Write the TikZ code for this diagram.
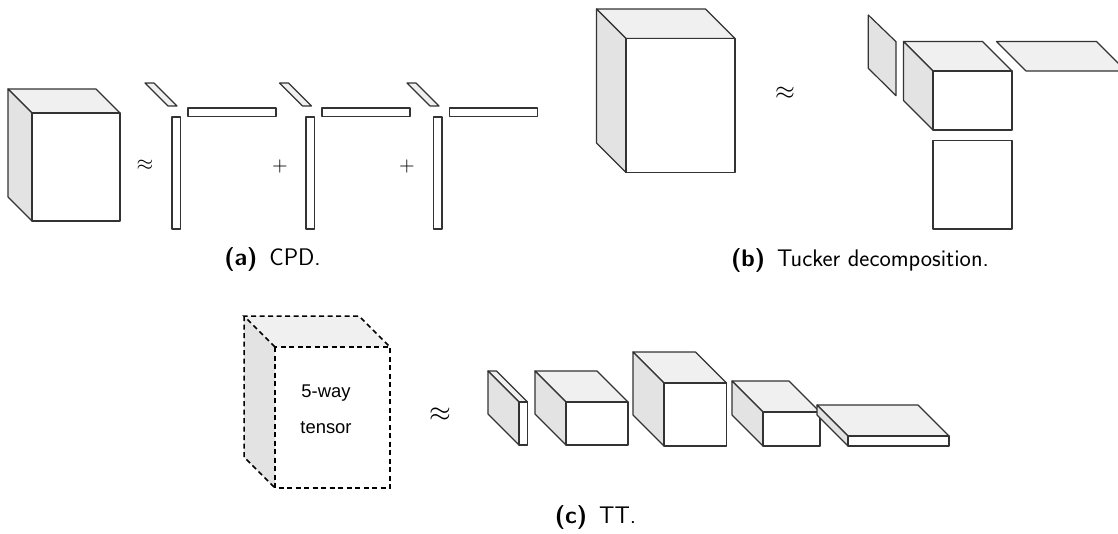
\documentclass[tikz,border=0pt]{standalone}
\usepackage{fontspec}
\newfontfamily\arialfont{Liberation Sans}
\definecolor{topc}{HTML}{F0F0F0}
\definecolor{sidec}{HTML}{E3E3E3}
\definecolor{edgec}{HTML}{333333}
\tikzset{
  face/.style={draw=edgec, line width=1.2pt, line join=round},
  topface/.style={face, fill=topc},
  sideface/.style={face, fill=sidec},
  frontface/.style={face, fill=white},
  dashedge/.style={draw=black, line width=1.5pt, dash pattern=on 5pt off 3.5pt},
  captext/.style={font=\fontsize{24}{28}\selectfont\sffamily, anchor=base, inner sep=0pt},
  relop/.style={inner sep=0pt},
  celltext/.style={font=\arialfont\fontsize{18.4}{22}\selectfont, anchor=base, inner sep=0pt}
}
% [style] x y w h d : front top-left (x,y), width w, height h, depth d (towards upper left)
\newcommand{\mycuboid}[6][]{%
  \path[topface,#1] (#2,#3) -- ++(-#6,-#6) -- ++(#4,0) -- ++(#6,#6) -- cycle;
  \path[sideface,#1] (#2,#3) -- ++(-#6,-#6) -- ++(0,#5) -- ++(#6,#6) -- cycle;
  \path[frontface,#1] (#2,#3) rectangle ++(#4,#5);
}
% bottom-right x of a slanted depth vector
\newcommand{\myslant}[1]{%
  \path[topface] (#1,106) -- ++(-9,0) -- ++(-23,-23) -- ++(9,0) -- cycle;
}
\begin{document}
\begin{tikzpicture}[x=1pt,y=-1pt]
\useasboundingbox (0,0) rectangle (1118,533);
\clip (0,0) rectangle (1118,533);

% ---------- (a) CPD ----------
\mycuboid{32}{113}{88}{108}{24}
\node[relop,scale=2.15] (apxA) at (145,165) {$\approx$};
% term 1
\myslant{177}
\path[frontface] (172,117) rectangle ++(8.5,112);
\path[frontface] (188,108) rectangle ++(88,8.5);
\node[relop,scale=2.0] (plusA) at (280,166) {$+$};
% term 2
\myslant{311.5}
\path[frontface] (306,117) rectangle ++(8.5,112);
\path[frontface] (322,108) rectangle ++(88,8.5);
\node[relop,scale=2.0] (plusB) at (407,166) {$+$};
% term 3
\myslant{439}
\path[frontface] (433.5,117) rectangle ++(8.5,112);
\path[frontface] (449.5,108) rectangle ++(88,8.5);
\node[captext] (capA) at (272.5,265) {\textbf{(a)}\hspace{12pt}CPD.};

% ---------- (b) Tucker ----------
\mycuboid{626}{38.5}{109}{134}{29.5}
\node[relop,scale=2.55] (apxB) at (785,93) {$\approx$};
\path[sideface] (896,41.7) -- (868.3,15) -- (868.3,68.3) -- (896,95.7) -- cycle;
\mycuboid{933}{71}{79}{59}{29.5}
\path[topface] (1026,71) -- (996.5,41.5) -- (1096.5,41.5) -- (1126,71) -- cycle;
\path[frontface] (933,140.5) rectangle (1012,229);
\node[captext] (capB) at (860,266) {\textbf{(b)}\hspace{12pt}Tucker decomposition.};

% ---------- (c) TT ----------
\fill[sidec] (275,347) -- (244,316) -- (244,457) -- (275,488) -- cycle;
\fill[topc] (275,347) -- (244,316) -- (359,316) -- (390,347) -- cycle;
\draw[dashedge] (275,347) rectangle (390,488);
\draw[dashedge] (275,347) -- (244,316) -- (359,316) -- (390,347);
\draw[dashedge] (244,316) -- (244,457) -- (275,488);
\node[celltext] (tt1) at (326,397) {5-way};
\node[celltext] (tt2) at (326,433.5) {tensor};
\node[relop,scale=2.8] (apxC) at (440,415) {$\approx$};
\mycuboid{519}{402}{8.5}{43}{31}
\mycuboid{566}{402}{62}{43}{31}
\mycuboid{664}{383}{62.5}{63}{31}
\mycuboid{763}{412}{57}{34}{31}
\mycuboid{848}{436}{101}{10}{31}
\node[captext] (capC) at (595.5,523) {\textbf{(c)}\hspace{12pt}TT.};
\end{tikzpicture}
\end{document}
